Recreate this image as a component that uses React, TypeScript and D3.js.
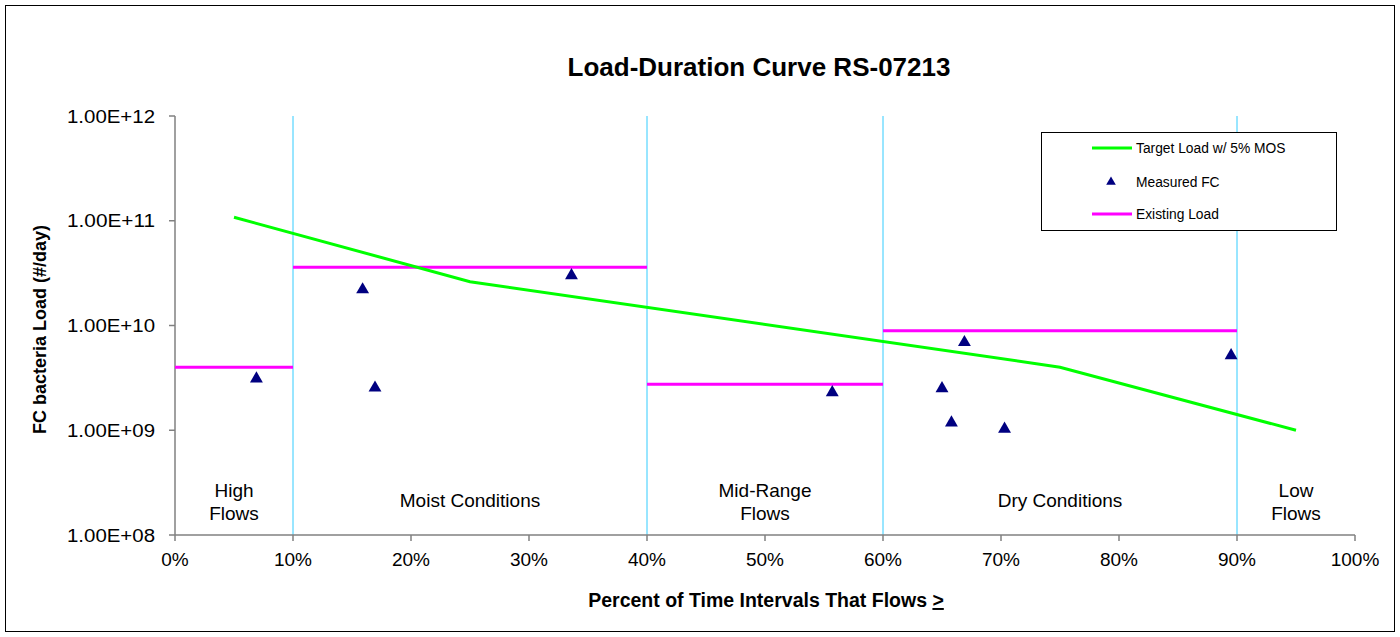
import * as d3 from 'd3'
import React from 'react'

// target load (green) - percent, load
const targetPct = [5, 25, 75, 95]
const targetLoad = [1.08e11, 2.62e10, 4.0e9, 1.0e9]

// existing load by flow regime (magenta)
const existingStart = [0, 10, 40, 60]
const existingEnd = [10, 40, 60, 90]
const existingLoad = [4.0e9, 3.6e10, 2.75e9, 8.9e9]

// measured FC samples
const measuredPct = [6.9, 15.9, 16.95, 33.6, 55.7, 65.0, 65.8, 66.9, 70.3, 89.5]
const measuredLoad = [3.1e9, 2.2e10, 2.54e9, 3.0e10, 2.29e9, 2.5e9, 1.18e9, 6.9e9, 1.03e9, 5.17e9]

const regimeBreaks = [10, 40, 60, 90]
const regimeLabels = [['High', 'Flows'], ['Moist Conditions'], ['Mid-Range', 'Flows'], ['Dry Conditions'], ['Low', 'Flows']]
const regimeCenters = [5, 25, 50, 75, 95]

const xTicks = [0, 10, 20, 30, 40, 50, 60, 70, 80, 90, 100]
const yTicks = [1e8, 1e9, 1e10, 1e11, 1e12]

const W = 1400
const H = 637
const m = { left: 175, right: 1355, top: 116, bottom: 535 }
const font = 'Arial, "Liberation Sans", sans-serif'

const fmtY = (v: number) => d3.format('.2e')(v).replace('e+', 'E+').replace(/E\+(\d)$/, 'E+0$1')

export default function App() {
  const x = d3.scaleLinear().domain([0, 100]).range([m.left, m.right])
  const y = d3.scaleLog().domain([1e8, 1e12]).range([m.bottom, m.top])

  const target = d3
    .line<number>()
    .x((_, i) => x(targetPct[i]))
    .y(d => y(d))(targetLoad)

  const tri = d3.symbol().type(d3.symbolTriangle).size(72)()

  return (
    <div style={{ position: 'fixed', left: 0, top: 0 }}>
      <svg width={W} height={H} style={{ display: 'block', background: '#fff' }} fontFamily={font}>
        <rect x={5.5} y={5.5} width={1389} height={626} fill="#fff" stroke="#000" strokeWidth={1} />

        <text x={759} y={76} textAnchor="middle" fontSize={26} fontWeight="bold">
          Load-Duration Curve RS-07213
        </text>

        {/* regime dividers */}
        {regimeBreaks.map(b => (
          <line key={b} x1={x(b)} x2={x(b)} y1={m.top} y2={m.bottom} stroke="#33ccff" strokeWidth={1} />
        ))}

        {/* axes */}
        <line x1={m.left} x2={m.left} y1={m.top} y2={m.bottom} stroke="#808080" strokeWidth={1.5} />
        <line x1={m.left} x2={m.right} y1={m.bottom} y2={m.bottom} stroke="#808080" strokeWidth={1.5} />
        {yTicks.map(t => (
          <g key={t}>
            <line x1={m.left - 6} x2={m.left} y1={y(t)} y2={y(t)} stroke="#808080" strokeWidth={1.5} />
            <text
              x={155}
              y={y(t) + 6.5}
              textAnchor="end"
              fontSize={18}
              textLength={88}
              lengthAdjust="spacingAndGlyphs"
            >
              {fmtY(t)}
            </text>
          </g>
        ))}
        {xTicks.map(t => (
          <g key={t}>
            <line x1={x(t)} x2={x(t)} y1={m.bottom} y2={m.bottom + 6} stroke="#808080" strokeWidth={1.5} />
            <text x={x(t)} y={m.bottom + 31} textAnchor="middle" fontSize={19}>
              {t}%
            </text>
          </g>
        ))}

        <text
          transform={`translate(46,${(m.top + m.bottom) / 2 + 4}) rotate(-90)`}
          textAnchor="middle"
          fontSize={18}
          fontWeight="bold"
        >
          FC bacteria Load (#/day)
        </text>
        <text x={766} y={607} textAnchor="middle" fontSize={19.5} fontWeight="bold">
          Percent of Time Intervals That Flows <tspan textDecoration="underline">&gt;</tspan>
        </text>

        {/* regime labels */}
        {regimeLabels.map((lines, i) => (
          <text key={i} x={x(regimeCenters[i])} textAnchor="middle" fontSize={19}>
            {lines.map((s, j) => (
              <tspan key={j} x={x(regimeCenters[i])} y={lines.length === 1 ? 507 : 497 + j * 23}>
                {s}
              </tspan>
            ))}
          </text>
        ))}

        {/* existing load */}
        {existingLoad.map((v, i) => (
          <line
            key={i}
            x1={x(existingStart[i])}
            x2={x(existingEnd[i])}
            y1={y(v)}
            y2={y(v)}
            stroke="#ff00ff"
            strokeWidth={3}
          />
        ))}

        <path d={target ?? ''} fill="none" stroke="#00ff00" strokeWidth={3} />

        {measuredPct.map((p, i) => (
          <path key={i} d={tri ?? ''} transform={`translate(${x(p)},${y(measuredLoad[i])})`} fill="#000080" />
        ))}

        {/* legend */}
        <rect x={1041.5} y={132.5} width={295} height={98} fill="#fff" stroke="#000" />
        <line x1={1092} x2={1132} y1={148} y2={148} stroke="#00ff00" strokeWidth={3} />
        <text x={1136} y={153} fontSize={13.8}>Target Load w/ 5% MOS</text>
        <path d={tri ?? ''} transform="translate(1111,182) scale(0.75)" fill="#000080" />
        <text x={1136} y={187} fontSize={13.8}>Measured FC</text>
        <line x1={1092} x2={1132} y1={214} y2={214} stroke="#ff00ff" strokeWidth={3} />
        <text x={1136} y={219} fontSize={13.8}>Existing Load</text>
      </svg>
    </div>
  )
}
